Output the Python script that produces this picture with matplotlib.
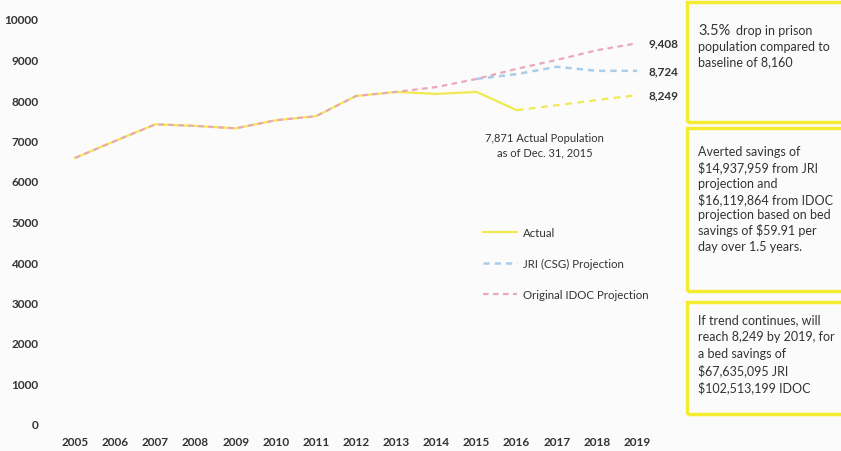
import matplotlib.pyplot as plt
from matplotlib.patches import Rectangle

plt.rcParams['font.family'] = ['Lato', 'DejaVu Sans']

# Data
years = list(range(2005, 2020))
actual_years = list(range(2005, 2017))
actual = [6570, 6990, 7400, 7360, 7300, 7500, 7600, 8100, 8200, 8150, 8200, 7750]
trend_years = [2016, 2017, 2018, 2019]
trend = [7750, 7870, 8000, 8120]
jri_years = [2015, 2016, 2017, 2018, 2019]
jri = [8520, 8640, 8820, 8720, 8720]
idoc = [6570, 6990, 7400, 7360, 7300, 7500, 7600, 8100, 8200, 8320, 8520, 8770,
        8990, 9230, 9400]
end_labels = ['9,408', '8,724', '8,249']
yticks = list(range(0, 10001, 1000))

box2_lines = ['Averted savings of', '$14,937,959 from JRI', 'projection and',
              '$16,119,864 from IDOC', 'projection based on bed',
              'savings of $59.91 per', 'day over 1.5 years.']
box3_lines = ['If trend continues, will', 'reach 8,249 by 2019, for',
              'a bed savings of', '$67,635,095 JRI', '$102,513,199 IDOC']

yellow = '#f0ea50'
blue = '#a9cdea'
pink = '#eaa9bb'
txt = '#333333'

W, H = 841, 452
fig = plt.figure(figsize=(W / 100, H / 100), dpi=100)
fig.patch.set_facecolor('#fbfbfb')

# axes placed in pixel terms: x 55..660, y 20..425
ax = fig.add_axes([55 / W, (H - 425) / H, 605 / W, 405 / H])
ax.set_facecolor('#fbfbfb')
ax.set_xlim(2004.5, 2019.57)
ax.set_ylim(0, 10000)

ax.plot(actual_years, actual, color=yellow, lw=1.6, label='Actual', zorder=2)
ax.plot(trend_years, trend, color=yellow, lw=1.6, ls=(0, (3, 2.5)), zorder=2)
ax.plot(jri_years, jri, color=blue, lw=1.8, ls=(0, (2.5, 2)),
        label='JRI (CSG) Projection', zorder=3)
ax.plot(years, idoc, color=pink, lw=1.6, ls=(0, (2.5, 2)),
        label='Original IDOC Projection', zorder=4)

ax.axhline(0, color='#dddddd', lw=0.8, ls=(0, (1, 2)), zorder=1)

for s in ax.spines.values():
    s.set_visible(False)
ax.tick_params(length=0, labelsize=8.5, labelcolor=txt)
ax.tick_params(axis='x', pad=9)
ax.tick_params(axis='y', pad=12)
ax.set_xticks(years)
ax.set_xticklabels([str(y) for y in years], fontweight='bold')
ax.set_yticks(yticks)
ax.set_yticklabels([str(v) for v in yticks], fontweight='bold')

# end values
for lab, yv in zip(end_labels, [idoc[-1], jri[-1], trend[-1]]):
    ax.annotate(lab, (2019, yv), xytext=(8, 0), textcoords='offset points',
                fontsize=8.5, fontweight='bold', color=txt, va='center')

ax.text(2016.7, 6900, '7,871 Actual Population\nas of Dec. 31, 2015',
        fontsize=8, color=txt, ha='center', va='center', linespacing=1.4)

ax.legend(loc='upper left', bbox_to_anchor=(0.69, 0.512), frameon=False,
          fontsize=8.3, handlelength=3.0, handletextpad=0.5,
          labelspacing=1.75, labelcolor=txt)

# side boxes
boxes = [(3, 123), (129, 292), (303, 415)]
for top, bot in boxes:
    fig.add_artist(Rectangle((687 / W, 1 - bot / H), 160 / W, (bot - top) / H,
                             transform=fig.transFigure, fill=False,
                             edgecolor='#f3ec30', lw=2.5, clip_on=False))

fig.text(698 / W, 1 - 35 / H, '3.5%', fontsize=10.5, color=txt, va='baseline')
fig.text(736 / W, 1 - 35 / H, 'drop in prison', fontsize=9, color=txt,
         va='baseline')
fig.text(698 / W, 1 - 47 / H, 'population compared to', fontsize=9,
         color=txt, va='center')
fig.text(698 / W, 1 - 62 / H, 'baseline of 8,160', fontsize=9,
         color=txt, va='center')

for i, line in enumerate(box2_lines):
    fig.text(698 / W, 1 - (152 + 15.8 * i) / H, line, fontsize=9,
             color=txt, va='center')

for i, line in enumerate(box3_lines):
    fig.text(698 / W, 1 - (320 + 17 * i) / H, line, fontsize=9,
             color=txt, va='center')

fig.savefig('out.png', dpi=100, facecolor=fig.get_facecolor())
